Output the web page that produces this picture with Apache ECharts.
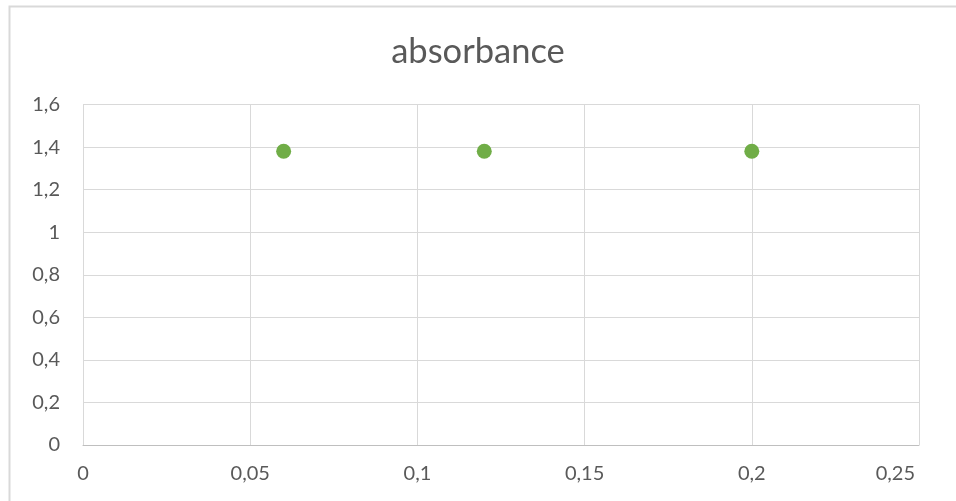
<!DOCTYPE html>
<html><head><meta charset="utf-8">
<script src="https://cdn.jsdelivr.net/npm/echarts@6/dist/echarts.min.js"></script>
<style>html,body{margin:0;padding:0;background:#fff}#c{width:956px;height:501px}</style>
</head><body><div id="c"></div>
<script>
const title = 'absorbance';
const xValues = [0.06, 0.12, 0.2];
const yValues = [1.38, 1.38, 1.38];
const xTicks = [0, 0.05, 0.1, 0.15, 0.2, 0.25];
const yTicks = [0, 0.2, 0.4, 0.6, 0.8, 1, 1.2, 1.4, 1.6];

const fmt = v => String(Math.round(v * 1000) / 1000).replace('.', ',');
const chart = echarts.init(document.getElementById('c'));
chart.setOption({
  animation: false,
  graphic: [{type: 'rect', shape: {x: 9.5, y: 6.5, width: 1000, height: 1000}, style: {fill: 'none', stroke: '#D9D9D9', lineWidth: 2}, z: -1}],
  title: {text: title, left: 'center', top: 29, textStyle: {fontFamily: 'Lato', fontSize: 34.5, fontWeight: 'normal', color: '#595959'}},
  grid: {left: 83, right: 37, top: 104.5, bottom: 56, containLabel: false},
  xAxis: {type: 'value', min: 0, max: 0.25, interval: 0.05,
    axisLine: {show: true, lineStyle: {color: '#BFBFBF'}}, axisTick: {show: false},
    splitLine: {show: true, lineStyle: {color: '#D9D9D9'}},
    axisLabel: {formatter: v => Math.abs(v - 0.25) < 1e-9 ? '{m|' + fmt(v) + '}' : fmt(v),
      rich: {m: {fontFamily: 'Lato', fontSize: 20, color: '#595959', padding: [0, 4, 0, 0]}},
      alignMaxLabel: 'right', margin: 19, fontFamily: 'Lato', fontSize: 20, color: '#595959'}},
  yAxis: {type: 'value', min: 0, max: 1.6, interval: 0.2,
    axisLine: {show: false}, axisTick: {show: false},
    splitLine: {show: true, lineStyle: {color: '#D9D9D9'}},
    axisLabel: {formatter: fmt, margin: 23, fontFamily: 'Lato', fontSize: 20, color: '#595959'}},
  series: [{type: 'scatter', data: xValues.map((x, i) => [x, yValues[i]]), symbolSize: 15,
    itemStyle: {color: '#70AD47', opacity: 1}}]
});
</script></body></html>
